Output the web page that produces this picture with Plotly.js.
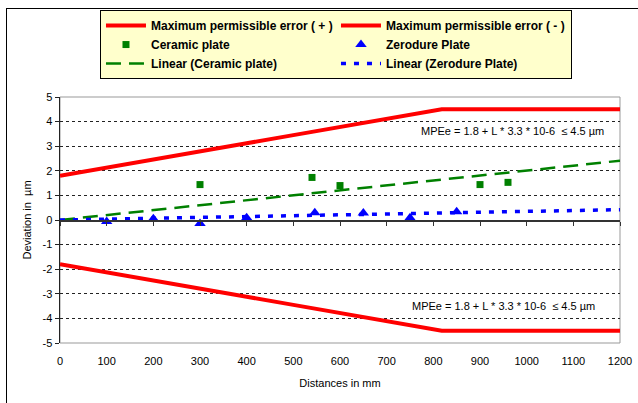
<!DOCTYPE html>
<html>
<head>
<meta charset="utf-8">
<script src="https://cdn.plot.ly/plotly-3.0.1.min.js"></script>
<style>
html,body{margin:0;padding:0;background:#fff;}
#wrap{position:relative;width:638px;height:403px;overflow:hidden;}
#chart{width:638px;height:403px;}
#frame{position:absolute;left:6px;top:8px;width:700px;height:500px;
  border-left:1.5px solid #000;border-top:1.5px solid #000;pointer-events:none;}
</style>
</head>
<body>
<div id="wrap">
<div id="chart"></div>
<div id="frame"></div>
</div>
<script>
// Maximum permissible error envelope
const mpeX = [0, 100, 200, 300, 400, 500, 600, 700, 800, 818, 900, 1000, 1100, 1200];
const mpePlus = [1.8, 2.12, 2.45, 2.79, 3.12, 3.45, 3.78, 4.11, 4.44, 4.5, 4.5, 4.5, 4.5, 4.5];
const mpeMinus = [-1.8, -2.12, -2.45, -2.79, -3.12, -3.45, -3.78, -4.11, -4.44, -4.5, -4.5, -4.5, -4.5, -4.5];

// Measured deviations
const ceramicX = [300, 540, 600, 900, 960];
const ceramicY = [1.44, 1.73, 1.40, 1.44, 1.53];
const zerodureX = [100, 200, 300, 400, 546, 650, 750, 850];
const zerodureY = [-0.06, 0.05, -0.14, 0.09, 0.29, 0.28, 0.09, 0.34];

// Linear trend lines
const trendX = [0, 1200];
const ceramicTrend = [0, 2.41];
const zerodureTrend = [0, 0.42];

const xTicks = [0,100,200,300,400,500,600,700,800,900,1000,1100,1200];
const yTicks = [-5,-4,-3,-2,-1,0,1,2,3,4,5];
const mpeLabel = 'MPEe = 1.8 + L * 3.3 * 10-6  \u2264 4.5 \u00b5m';

const FONT = 'Liberation Sans, Arial, sans-serif';

const traces = [
  {x: mpeX, y: mpePlus, mode: 'lines', name: 'Maximum permissible error ( + )',
   line: {color: '#FF0000', width: 4}},
  {x: mpeX, y: mpeMinus, mode: 'lines', name: 'Maximum permissible error ( - )',
   line: {color: '#FF0000', width: 4}},
  {x: ceramicX, y: ceramicY, mode: 'markers', name: 'Ceramic plate',
   marker: {symbol: 'square', color: '#008000', size: 7}},
  {x: zerodureX, y: zerodureY, mode: 'markers', name: 'Zerodure Plate',
   marker: {symbol: 'triangle-up', color: '#0000FF', size: 10}},
  {x: trendX, y: ceramicTrend, mode: 'lines', name: 'Linear (Ceramic plate)',
   line: {color: '#008000', width: 2.5, dash: '15px,8px'}},
  {x: trendX, y: zerodureTrend, mode: 'lines', name: 'Linear (Zerodure Plate)',
   line: {color: '#0000FF', width: 3.5, dash: '5px,8px'}},
  // invisible trace to activate the zero-crossing tick axis
  {x: trendX, y: [0, 0], xaxis: 'x2', mode: 'lines', showlegend: false,
   hoverinfo: 'skip', line: {color: 'rgba(0,0,0,0)', width: 0}}
];

const layout = {
  width: 638, height: 403,
  margin: {l: 60, r: 18, t: 96, b: 60},
  paper_bgcolor: '#fff', plot_bgcolor: '#fff',
  font: {family: FONT, size: 11, color: '#000'},
  showlegend: true,
  legend: {
    orientation: 'h', x: 0.0714, y: 1.348, xanchor: 'left', yanchor: 'top',
    bgcolor: '#FFFFCC', bordercolor: '#000', borderwidth: 1,
    font: {family: FONT, size: 12, color: '#000', weight: 'bold'},
    entrywidth: 180, itemwidth: 40, tracegroupgap: 0
  },
  xaxis: {
    range: [0, 1200], tickvals: xTicks, ticktext: xTicks.map(String),
    showgrid: false, zeroline: false, showline: false, ticks: '',
    tickfont: {family: FONT, size: 11, color: '#000'},
    ticklabelstandoff: 10,
    title: {text: 'Distances in mm', font: {family: FONT, size: 11, color: '#000'}, standoff: 13},
    fixedrange: true
  },
  xaxis2: {
    range: [0, 1200], overlaying: 'x', anchor: 'free', position: 0.5, side: 'bottom',
    tickvals: xTicks, showticklabels: false, ticks: 'outside', ticklen: 4,
    tickcolor: '#333', showline: true, linecolor: '#333', linewidth: 1.5,
    showgrid: false, zeroline: false
  },
  yaxis: {
    range: [-5, 5], tickvals: yTicks, ticktext: yTicks.map(String),
    showgrid: true, gridcolor: '#222', griddash: 'dot', gridwidth: 1,
    zeroline: false, showline: true, linecolor: '#222', linewidth: 1.5,
    ticks: 'outside', ticklen: 4, tickcolor: '#222',
    tickfont: {family: FONT, size: 11, color: '#000'},
    title: {text: 'Deviation in  \u00b5m', font: {family: FONT, size: 11, color: '#000'}, standoff: 8},
    fixedrange: true
  },
  shapes: [
    // plot area border (top/right)
    {type: 'rect', xref: 'paper', yref: 'paper', x0: 0, x1: 1, y0: 0, y1: 1,
     line: {color: '#999', width: 1}, layer: 'between'}
  ],
  annotations: [
    {x: 969, y: 3.62, xref: 'x', yref: 'y', text: mpeLabel, showarrow: false,
     font: {family: FONT, size: 11, color: '#000'}},
    {x: 950, y: -3.49, xref: 'x', yref: 'y', text: mpeLabel, showarrow: false,
     font: {family: FONT, size: 11, color: '#000'}}
  ]
};

Plotly.newPlot('chart', traces, layout, {displayModeBar: false, staticPlot: true});
</script>
</body>
</html>
